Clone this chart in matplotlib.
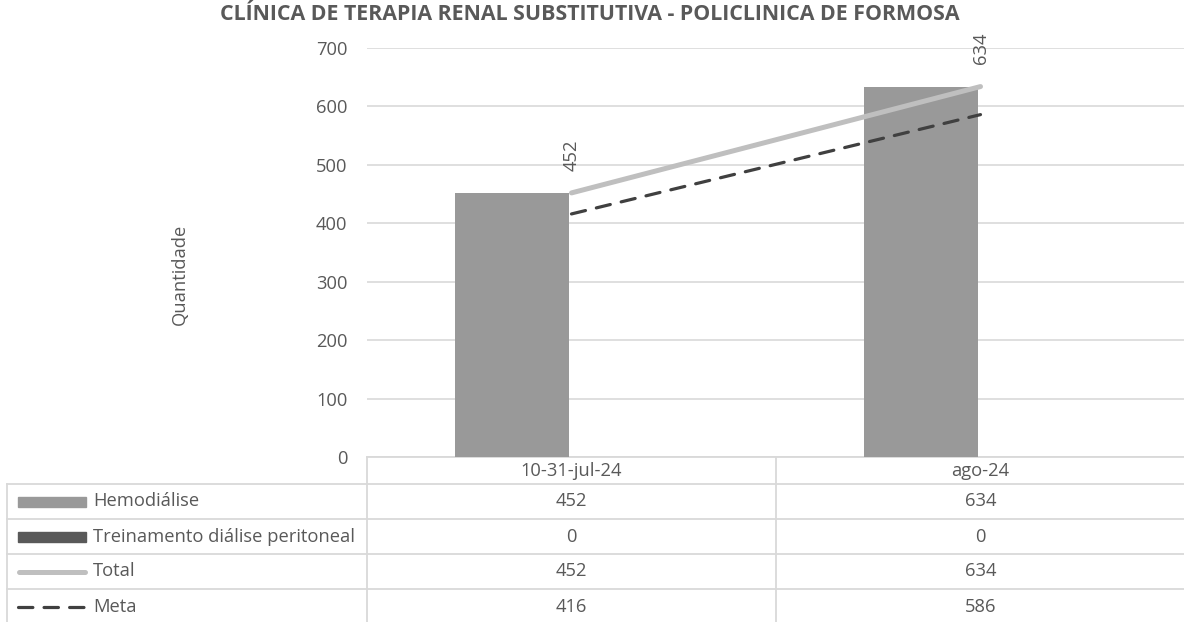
import numpy as np
import matplotlib.pyplot as plt
from matplotlib.lines import Line2D
from matplotlib.patches import Rectangle

# Data
categories = ['10-31-jul-24', 'ago-24']
hemodialise = [452, 634]
treinamento = [0, 0]
total = [452, 634]
meta = [416, 586]
series_names = ['Hemodiálise', 'Treinamento diálise peritoneal', 'Total', 'Meta']

plt.rcParams['font.family'] = ['Open Sans', 'DejaVu Sans']
txt = '#595959'
grid_c = '#D9D9D9'
c_hemo, c_trein, c_total, c_meta = '#999999', '#595959', '#BFBFBF', '#404040'
fs = 13.2

W, H = 1184, 622
fig = plt.figure(figsize=(W / 100, H / 100), dpi=100)

# plot area (pixels)
px_left, px_right, px_top, px_bottom = 367, 1185, 48, 457
ax = fig.add_axes([px_left / W, 1 - px_bottom / H,
                   (px_right - px_left) / W, (px_bottom - px_top) / H])
x = np.arange(len(categories))
bw = 0.28
ax.bar(x - bw / 2 - 0.005, hemodialise, bw, color=c_hemo, zorder=2)
ax.bar(x + bw / 2 + 0.005, treinamento, bw, color=c_trein, zorder=2)
ax.plot(x, total, color=c_total, lw=3.6, solid_capstyle='round', zorder=3)
ax.plot(x, meta, color=c_meta, lw=2.3, dashes=(4.5, 3.5), dash_capstyle='round', zorder=3)
for xi, v in zip(x, total):
    ax.annotate(str(v), (xi, v), xytext=(0, 16), textcoords='offset points',
                rotation=90, ha='center', va='bottom', color=txt, fontsize=fs)
ax.set_xlim(-0.5, len(categories) - 0.5)
ax.set_ylim(0, 700)
ax.set_yticks(range(0, 701, 100))
ax.yaxis.grid(True, color=grid_c, lw=1.2)
ax.set_axisbelow(True)
ax.tick_params(axis='y', length=0, pad=14, labelsize=fs, labelcolor=txt)
ax.set_xticks([])
for s in ax.spines.values():
    s.set_visible(False)
ax.patch.set_alpha(0)

fig.text(590 / W, 1 - 15 / H, 'CLÍNICA DE TERAPIA RENAL SUBSTITUTIVA - POLICLINICA DE FORMOSA',
         ha='center', va='center', fontweight='bold', fontsize=15.4, color=txt)
fig.text(180 / W, 1 - 274 / H, 'Quantidade', rotation=90, ha='center', va='center',
         fontsize=fs, color=txt)

# data table drawn in pixel coordinates
tab = fig.add_axes([0, 0, 1, 1], zorder=-1)
tab.set_xlim(0, W)
tab.set_ylim(H, 0)
tab.axis('off')
lw_t = 1.3
head_top, head_bot, row_h = 457, 484, 35
table_left = 7
cat_w = (px_right - px_left) / len(categories)

tab.plot([px_left, px_right], [head_top, head_top], color=grid_c, lw=lw_t)
for r in range(len(series_names)):
    yl = head_bot + r * row_h
    tab.plot([table_left, px_right], [yl, yl], color=grid_c, lw=lw_t)
tab.plot([table_left, table_left], [head_bot, H], color=grid_c, lw=lw_t)
for i in range(len(categories)):
    xl = px_left + i * cat_w
    tab.plot([xl, xl], [head_top, H], color=grid_c, lw=lw_t)

for i, cat in enumerate(categories):
    cx = px_left + (i + 0.5) * cat_w
    tab.text(cx, (head_top + head_bot) / 2, cat, ha='center', va='center', fontsize=fs, color=txt)
    for r, vals in enumerate([hemodialise, treinamento, total, meta]):
        cy = head_bot + (r + 0.5) * row_h
        tab.text(cx, cy, str(vals[i]), ha='center', va='center', fontsize=fs, color=txt)

# legend keys
key_x0, key_x1 = 18, 86
for r, name in enumerate(series_names):
    cy = head_bot + (r + 0.5) * row_h
    if r == 0:
        tab.add_patch(Rectangle((key_x0, cy - 5), key_x1 - key_x0, 10, color=c_hemo))
    elif r == 1:
        tab.add_patch(Rectangle((key_x0, cy - 5), key_x1 - key_x0, 10, color=c_trein))
    elif r == 2:
        tab.add_line(Line2D([key_x0 + 1, key_x1 - 1], [cy, cy], color=c_total, lw=3.6,
                            solid_capstyle='round'))
    else:
        tab.add_line(Line2D([key_x0, key_x1], [cy, cy], color=c_meta, lw=2.3,
                            dashes=(4.5, 3.5), dash_capstyle='round'))
    tab.text(93, cy, name, ha='left', va='center', fontsize=fs, color=txt)

fig.savefig('out.png', dpi=100)
